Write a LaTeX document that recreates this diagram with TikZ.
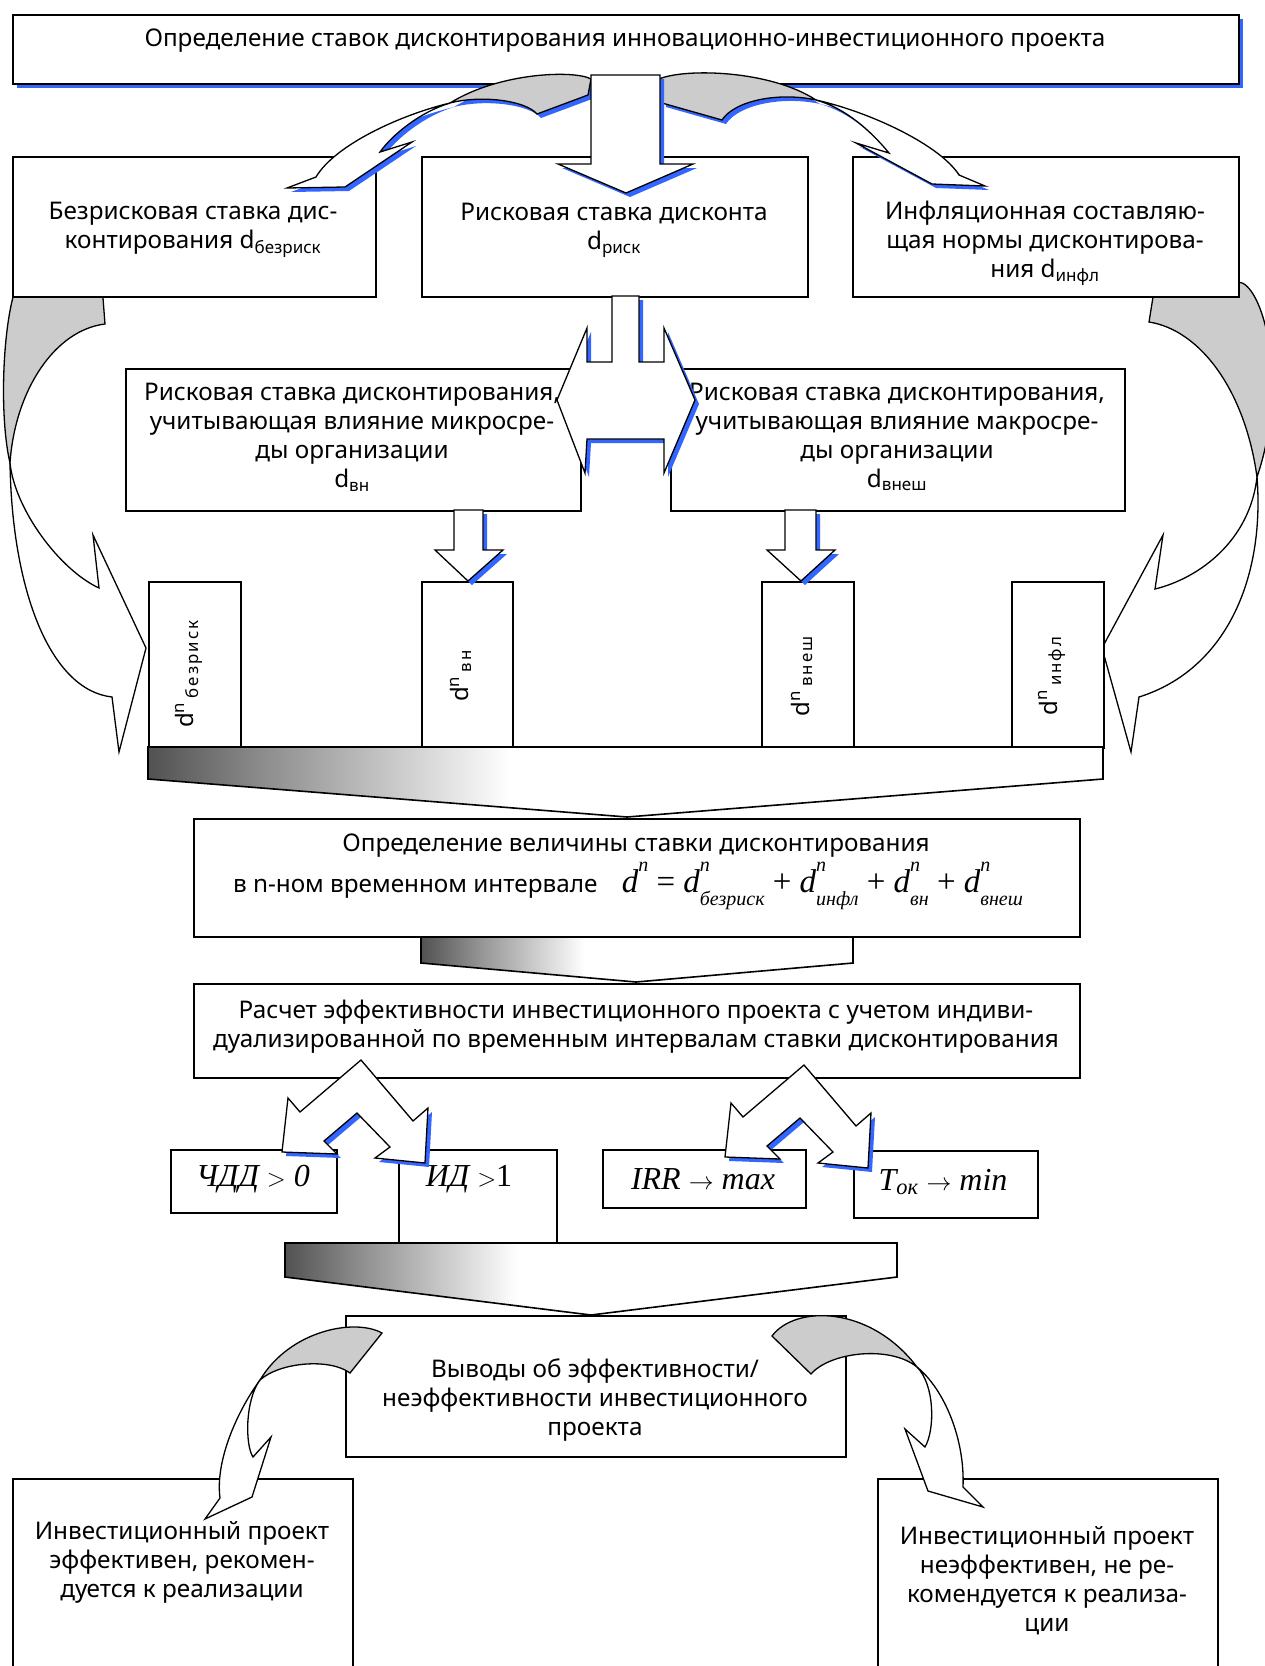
\documentclass[tikz,border=0pt]{standalone}
\usepackage{fontspec}
\setmainfont{Noto Sans}
\newfontfamily\tms{Liberation Serif}
\usetikzlibrary{shadows}
\definecolor{ShadeBlue}{RGB}{51,102,255}
\definecolor{RibGrey}{RGB}{204,204,204}
\pgfdeclarehorizontalshading{chevshade}{100bp}{color(0bp)=(black!68); color(25bp)=(black!68); color(31bp)=(black!45); color(44bp)=(white); color(100bp)=(white)}
\newcommand\mainsz{\fontsize{24.3}{29}\selectfont}
\newcommand\dsub[1]{d\textsubscript{#1}}
\newcommand\dnv[1]{d\textsuperscript{n}\hspace{4pt}\textsubscript{\addfontfeatures{LetterSpace=12}#1}}
\newcommand\dnf[1]{{\itshape d\rlap{\raisebox{0.62em}{\fontsize{20}{20}\selectfont n}}\raisebox{-0.4em}{\fontsize{20}{20}\selectfont #1}}}

\begin{document}
\begin{tikzpicture}[x=1pt, y=-1pt,
    box/.style={draw, line width=1.6pt, fill=white, inner sep=0pt, anchor=north west},
    txt/.style={align=center, inner sep=0pt, font=\mainsz},
    vtxt/.style={rotate=90, inner sep=0pt, font=\fontsize{24}{24}\selectfont},
    frm/.style={inner sep=0pt, font=\fontsize{32}{32}\selectfont\tms},
    blk/.style={draw, line width=1.3pt, fill=white, line join=miter},
    rib/.style={draw, line width=1.3pt, fill=RibGrey},
    shd/.style={drop shadow={shadow xshift=4pt, shadow yshift=-4pt, fill=ShadeBlue, opacity=1}},
    chev/.style={draw, line width=1.6pt, shade, shading=chevshade}]
  \useasboundingbox (0,0) rectangle (1265,1666);

  % side arrows (behind the boxes)
  \path[rib] (13,285) -- (13,297) .. controls (2,340) and (0,420) .. (10,463)
    .. controls (15,390) and (55,330) .. (105,324) -- (102,285) -- cycle;
  \path[blk] (10,463) .. controls (12,590) and (50,690) .. (112,697) -- (119,752) -- (146,648)
    -- (93,535) -- (99,588) .. controls (60,570) and (15,510) .. (10,463) -- cycle;
  \path[rib] (1153,285) -- (1153,297) -- (1149,322) .. controls (1200,330) and (1245,390) .. (1257,477)
    .. controls (1290,380) and (1262,282) .. (1238,282) -- cycle;
  \path[blk] (1257,477) .. controls (1265,580) and (1225,670) .. (1139,697) -- (1131,752) -- (1102,648)
    -- (1163,535) -- (1155,589) .. controls (1200,578) and (1250,540) .. (1257,477) -- cycle;

  % boxes
  \node[box, minimum width=1226pt, minimum height=69pt, shd] (title) at (12,14) {};
  \node[box, minimum width=363pt, minimum height=140pt] (bez) at (12,156) {};
  \node[box, minimum width=386pt, minimum height=140pt] (risk) at (421,156) {};
  \node[box, minimum width=386pt, minimum height=140pt] (infl) at (852,156) {};
  \node[box, minimum width=455pt, minimum height=142pt] (mikro) at (125,368) {};
  \node[box, minimum width=454pt, minimum height=142pt] (makro) at (670,368) {};
  \node[box, minimum width=92pt, minimum height=166pt] (dn1) at (148,581) {};
  \node[box, minimum width=91pt, minimum height=166pt] (dn2) at (421,581) {};
  \node[box, minimum width=92pt, minimum height=166pt] (dn3) at (761,581) {};
  \node[box, minimum width=92pt, minimum height=166pt] (dn4) at (1011,581) {};
  \node[box, minimum width=886pt, minimum height=118pt] (velich) at (193,818) {};
  \node[box, minimum width=886pt, minimum height=94pt] (rasch) at (193,983) {};
  \node[box, minimum width=166pt, minimum height=63pt] (chdd) at (170,1149) {};
  \node[box, minimum width=158pt, minimum height=101pt] (idx) at (398,1149) {};
  \node[box, minimum width=203pt, minimum height=58pt] (irr) at (602,1149) {};
  \node[box, minimum width=184pt, minimum height=67pt] (tok) at (853,1150) {};
  \node[box, minimum width=500pt, minimum height=141pt] (vyv) at (345,1315) {};
  \node[box, minimum width=340pt, minimum height=210pt] (eff) at (12,1478) {};
  \node[box, minimum width=340pt, minimum height=210pt] (neeff) at (877,1478) {};

  % texts
  \node[txt] (title-t) at (625,41) {Определение ставок дисконтирования инновационно-инвестиционного проекта};
  \node[txt] (bez-t) at (193,230) {Безрисковая ставка дис-\\контирования \dsub{безриск}};
  \node[txt] (risk-t) at (614,230) {Рисковая ставка дисконта\\\dsub{риск}};
  \node[txt] (infl-t) at (1045,243) {Инфляционная составляю-\\щая нормы дисконтирова-\\ния \dsub{инфл}};
  \node[txt] (mikro-t) at (352,437) {Рисковая ставка дисконтирования,\\учитывающая влияние микросре-\\ды организации\\\dsub{вн}};
  \node[txt] (makro-t) at (897,437) {Рисковая ставка дисконтирования,\\учитывающая влияние макросре-\\ды организации\\\dsub{внеш}};
  \node[vtxt] (dn1-t) at (189,674) {\dnv{безриск}};
  \node[vtxt] (dn2-t) at (461,676) {\dnv{вн}};
  \node[vtxt] (dn3-t) at (802,676) {\dnv{внеш}};
  \node[vtxt] (dn4-t) at (1052,676) {\dnv{инфл}};
  \node[txt] (velich-t1) at (636,846) {Определение величины ставки дисконтирования};
  \node[txt, anchor=base] (velich-t2) at (628,892) {в n-ном временном интервале\quad
    {\fontsize{33}{33}\selectfont\tms {\itshape d\raisebox{0.62em}{\fontsize{20}{20}\selectfont n}} = \dnf{безриск}\ + \dnf{инфл}\ + \dnf{вн}\ + \dnf{внеш}}};
  \node[txt] (rasch-t) at (636,1027) {Расчет эффективности инвестиционного проекта с учетом индиви-\\дуализированной по временным интервалам ставки дисконтирования};
  \node[frm] (chdd-t) at (253,1179) {{\itshape ЧДД} $>$ {\itshape 0}};
  \node[frm] (idx-t) at (469,1179) {{\itshape ИД} $>$1};
  \node[frm] (irr-t) at (703,1179) {{\itshape IRR} $\rightarrow$ {\itshape max}};
  \node[frm] (tok-t) at (943,1182) {{\itshape T\textsubscript{ок}} $\rightarrow$ {\itshape min}};
  \node[txt] (vyv-t) at (595,1400) {Выводы об эффективности/\\неэффективности инвестиционного\\проекта};
  \node[txt] (eff-t) at (182,1562) {Инвестиционный проект\\эффективен, рекомен-\\дуется к реализации};
  \node[txt] (neeff-t) at (1047,1581) {Инвестиционный проект\\неэффективен, не ре-\\комендуется к реализа-\\ции};

  % arrows from the title
  \path[rib, shd] (591,79) .. controls (575,70) and (500,72) .. (450,103)
    .. controls (480,95) and (525,100) .. (537,114) -- (588,95) -- cycle;
  \path[blk, shd] (450,103) .. controls (400,115) and (335,145) .. (316,177) -- (287,188) -- (345,187)
    -- (412,142) -- (380,152) .. controls (392,135) and (420,112) .. (450,103) -- cycle;
  \path[rib, shd] (659,79) .. controls (685,68) and (770,70) .. (816,100)
    .. controls (780,92) and (735,100) .. (722,120) -- (662,103) -- cycle;
  \path[blk, shd] (816,100) .. controls (870,112) and (940,145) .. (959,175) -- (985,186) -- (932,184)
    -- (856,143) -- (889,153) .. controls (870,130) and (845,108) .. (816,100) -- cycle;
  \path[blk, shd] (591,75) -- (660,75) -- (660,164) -- (693,164) -- (626,193) -- (558,164) -- (591,164) -- cycle;

  % two-way arrow between the risk boxes
  \path[blk, shd] (612,296) -- (612,362) -- (587,362) -- (587,328) -- (557,400) -- (585,473) -- (587,439)
    -- (664,439) -- (664,473) -- (695,400) -- (664,328) -- (664,362) -- (639,362) -- (639,296) -- cycle;
  \path[blk, shd] (454,510) -- (483,510) -- (483,550) -- (503,550) -- (468,581) -- (435,550) -- (454,550) -- cycle;
  \path[blk, shd] (785,510) -- (816,510) -- (816,550) -- (835,550) -- (801,581) -- (767,550) -- (785,550) -- cycle;

  % shaded block arrows
  \path[chev] (148,747) -- (1103,747) -- (1103,779) -- (627,817) -- (148,779) -- cycle;
  \path[chev] (421,937) -- (853,937) -- (853,963) -- (636,982) -- (421,963) -- cycle;
  \path[chev] (285,1243) -- (897,1243) -- (897,1277) -- (591,1315) -- (285,1277) -- cycle;

  % split arrows to the criteria
  \foreach \dx/\dy in {0/0, 443/5}
    \path[blk, shd, shift={(\dx,\dy)}] (361,1060) -- (413,1121) -- (428,1108) -- (425,1163) -- (375,1158)
      -- (390,1147) -- (357,1113) -- (324,1141) -- (337,1154) -- (282,1152) -- (288,1098) -- (300,1112) -- cycle;

  % arrows to the conclusions
  \path[rib] (382,1333) .. controls (355,1318) and (290,1330) .. (260,1380)
    .. controls (280,1362) and (330,1358) .. (350,1373) -- cycle;
  \path[blk] (260,1380) .. controls (238,1410) and (215,1460) .. (220,1498) -- (205,1519) -- (252,1497)
    -- (271,1437) -- (253,1457) .. controls (245,1445) and (245,1400) .. (260,1380) -- cycle;
  \path[rib] (772,1336) .. controls (795,1305) and (870,1305) .. (917,1367)
    .. controls (890,1345) and (830,1352) .. (811,1374) -- cycle;
  \path[blk] (917,1367) .. controls (945,1390) and (965,1440) .. (963,1487) -- (983,1507) -- (928,1491)
    -- (905,1429) -- (925,1447) .. controls (935,1430) and (935,1385) .. (917,1367) -- cycle;
\end{tikzpicture}
\end{document}
